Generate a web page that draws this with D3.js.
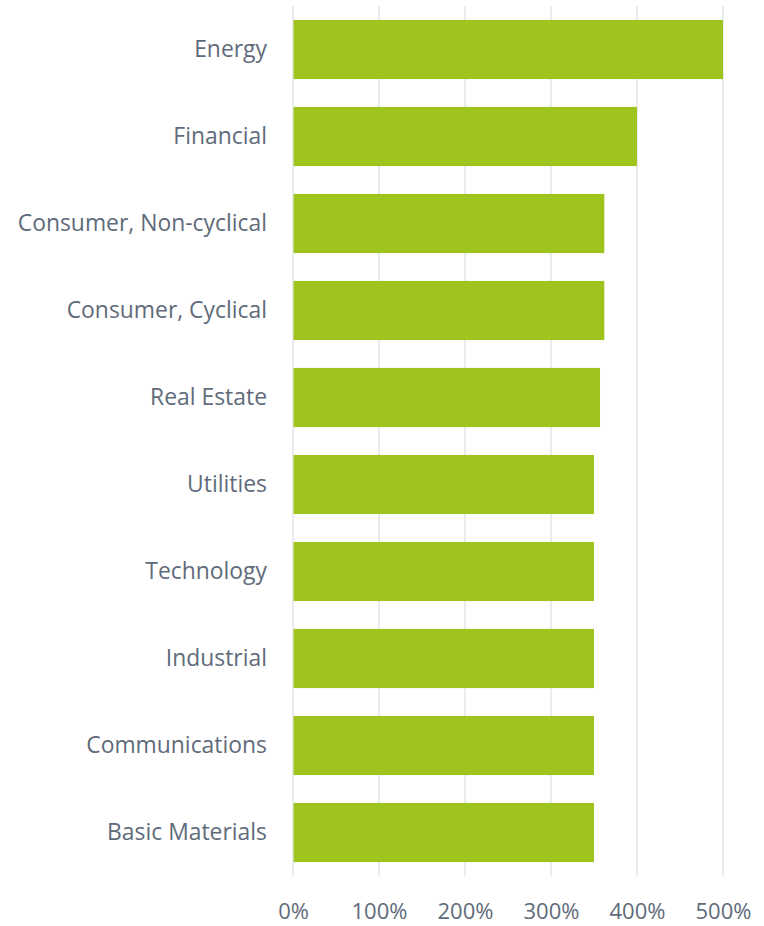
<!DOCTYPE html>
<html>
<head>
<meta charset="utf-8">
<script src="https://cdn.jsdelivr.net/npm/d3@7"></script>
<style>
  html, body { margin: 0; padding: 0; background: #fff; }
  svg { display: block; }
  text { font-family: "Open Sans", "Noto Sans", sans-serif; fill: #5f6b7a; }
</style>
</head>
<body>
<svg id="chart" width="764" height="926"></svg>
<script>
// Sector values (percent)
const sectors = ["Energy", "Financial", "Consumer, Non-cyclical", "Consumer, Cyclical",
  "Real Estate", "Utilities", "Technology", "Industrial", "Communications", "Basic Materials"];
const values = [500, 400, 362, 362, 357, 350, 350, 350, 350, 350];
const tickValues = [0, 100, 200, 300, 400, 500];

const svg = d3.select("#chart");
const margin = { top: 6, right: 41, bottom: 50, left: 293 };
const width = 764 - margin.left - margin.right;
const height = 926 - margin.top - margin.bottom;

const g = svg.append("g").attr("transform", `translate(${margin.left},${margin.top})`);

const x = d3.scaleLinear().domain([0, 500]).range([0, width]);
const y = d3.scaleBand().domain(sectors).range([0, height]).paddingInner(0.32).paddingOuter(0.16);

// Vertical gridlines
g.selectAll("line.grid")
  .data(tickValues)
  .join("line")
  .attr("class", "grid")
  .attr("x1", d => x(d)).attr("x2", d => x(d))
  .attr("y1", 0).attr("y2", height)
  .attr("stroke", "#e5e5ee")
  .attr("stroke-width", 1.5);

// Bars
g.selectAll("rect.bar")
  .data(sectors.map((s, i) => ({ s, v: values[i] })))
  .join("rect")
  .attr("class", "bar")
  .attr("x", x(0) + 0.5)
  .attr("y", d => y(d.s))
  .attr("width", d => x(d.v) - x(0) - 0.5)
  .attr("height", y.bandwidth())
  .attr("fill", "#9fc41e");

// Category labels
const yAxis = d3.axisLeft(y).tickSize(0).tickPadding(26);
g.append("g").call(yAxis)
  .call(a => a.select(".domain").remove())
  .selectAll("text")
  .style("font-size", "22.9px")
  .attr("fill", "#5f6b7a");

// Percent tick labels
const xAxis = d3.axisBottom(x).tickValues(tickValues).tickSize(0).tickPadding(27)
  .tickFormat(d => d + "%");
g.append("g").attr("transform", `translate(0,${height})`).call(xAxis)
  .call(a => a.select(".domain").remove())
  .selectAll("text")
  .style("font-size", "22px")
  .attr("fill", "#5f6b7a");
</script>
</body>
</html>
